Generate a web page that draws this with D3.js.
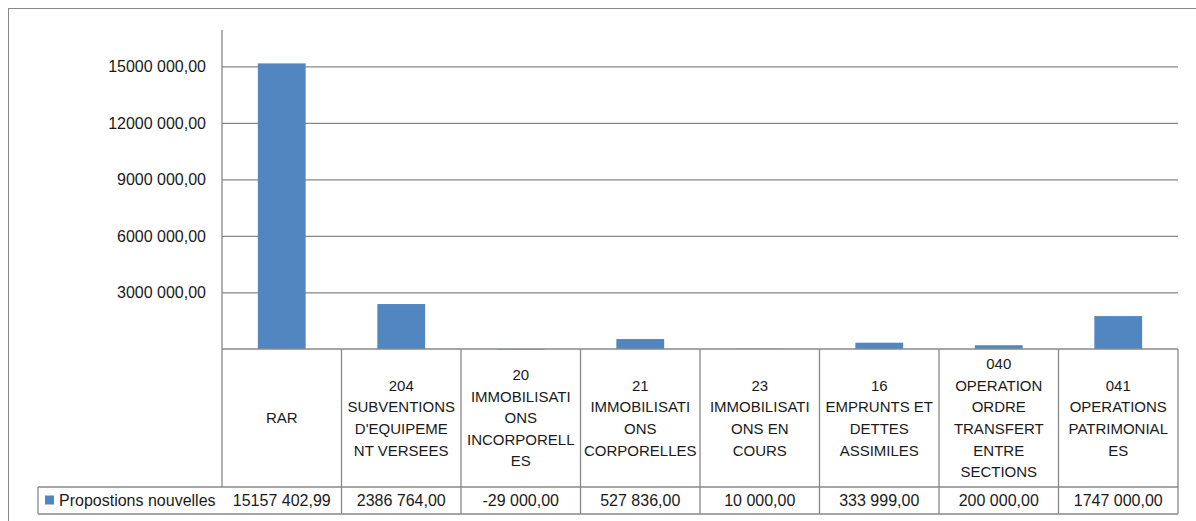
<!DOCTYPE html>
<html>
<head>
<meta charset="utf-8">
<script src="https://cdn.jsdelivr.net/npm/d3@7"></script>
<style>
  body { margin: 0; background: #fff; }
  svg text { font-family: "Liberation Sans", Arial, sans-serif; fill: #1a1a1a; }
</style>
</head>
<body>
<svg id="chart"></svg>
<script>
// categories (line breaks as Excel wrapped them)
var categories = [
  "RAR",
  "204\nSUBVENTIONS\nD'EQUIPEME\nNT VERSEES",
  "20\nIMMOBILISATI\nONS\nINCORPORELL\nES",
  "21\nIMMOBILISATI\nONS\nCORPORELLES",
  "23\nIMMOBILISATI\nONS EN\nCOURS",
  "16\nEMPRUNTS ET\nDETTES\nASSIMILES",
  "040\nOPERATION\nORDRE\nTRANSFERT\nENTRE\nSECTIONS",
  "041\nOPERATIONS\nPATRIMONIAL\nES"
];
var seriesName = "Propostions nouvelles";
var values = [15157402.99, 2386764, -29000, 527836, 10000, 333999, 200000, 1747000];
var yTicks = [3000000, 6000000, 9000000, 12000000, 15000000];

function drawChart() {
    var width = 1196, height = 521,
        left = 222, right = 1178,
        top = 30, bottom = 349,
        headBottom = 487, rowBottom = 514,
        legendLeft = 38,
        grid = "#888888",
        barColor = "#5186c1";

    // format like "15000 000,00"
    function fmt(v) {
        var s = Math.abs(v).toFixed(2).split(".");
        var i = s[0];
        if (i.length > 3) i = i.slice(0, -3) + " " + i.slice(-3);
        return (v < 0 ? "-" : "") + i + "," + s[1];
    }

    var svg = d3.select("#chart")
        .attr("width", width)
        .attr("height", height);

    // outer chart frame
    svg.append("rect")
        .attr("x", 8.5).attr("y", 8.5)
        .attr("width", 1300).attr("height", 700)
        .attr("fill", "none")
        .attr("stroke", grid);

    var x = d3.scaleBand()
        .domain(categories)
        .range([left, right])
        .padding(0);

    var y = d3.scaleLinear()
        .domain([0, 16930000])
        .range([bottom, top]);

    // gridlines + labels
    var yAxis = d3.axisLeft(y)
        .tickValues(yTicks)
        .tickSize(-(right - left))
        .tickPadding(16)
        .tickFormat(fmt);

    var ga = svg.append("g")
        .attr("transform", "translate(" + left + ",0)")
        .call(yAxis);
    ga.select(".domain").remove();
    ga.selectAll(".tick line")
        .attr("stroke", grid)
        .attr("stroke-width", 1.3);
    ga.selectAll(".tick text")
        .attr("font-size", 16)
        .attr("font-family", "Liberation Sans, Arial, sans-serif")
        .attr("fill", "#1a1a1a");

    // vertical axis line
    svg.append("line")
        .attr("x1", left).attr("x2", left)
        .attr("y1", y.range()[1]).attr("y2", headBottom)
        .attr("stroke", grid).attr("stroke-width", 1.3);

    // bars
    var bw = x.bandwidth() / 2.5;
    svg.selectAll("rect.bar")
        .data(values)
        .enter().append("rect")
        .attr("class", "bar")
        .attr("x", function (d, i) { return x(categories[i]) + (x.bandwidth() - bw) / 2; })
        .attr("y", function (d) { return y(Math.max(0, d)); })
        .attr("width", bw)
        .attr("height", function (d) { return Math.abs(y(d) - y(0)); })
        .attr("fill", barColor);

    // data table lines
    var tl = svg.append("g")
        .attr("stroke", grid)
        .attr("stroke-width", 1.3);
    tl.append("line")
        .attr("x1", left).attr("x2", right)
        .attr("y1", y(0)).attr("y2", y(0));
    tl.append("line")
        .attr("x1", legendLeft).attr("x2", right)
        .attr("y1", headBottom).attr("y2", headBottom);
    tl.append("line")
        .attr("x1", legendLeft).attr("x2", right)
        .attr("y1", rowBottom).attr("y2", rowBottom);
    tl.append("line")
        .attr("x1", legendLeft).attr("x2", legendLeft)
        .attr("y1", headBottom).attr("y2", rowBottom);
    tl.selectAll("line.col")
        .data(categories)
        .enter().append("line")
        .attr("class", "col")
        .attr("x1", function (d) { return x(d) + x.bandwidth(); })
        .attr("x2", function (d) { return x(d) + x.bandwidth(); })
        .attr("y1", y(0)).attr("y2", rowBottom);

    // header labels
    var lh = 21.6, midHead = (y(0) + headBottom) / 2;
    categories.forEach(function (c) {
        var lines = c.split("\n");
        var t = svg.append("text")
            .attr("text-anchor", "middle")
            .attr("font-size", 15);
        lines.forEach(function (ln, k) {
            t.append("tspan")
                .attr("x", x(c) + x.bandwidth() / 2)
                .attr("y", midHead + (k - (lines.length - 1) / 2) * lh)
                .attr("dy", "0.35em")
                .text(ln);
        });
    });

    // value row
    var midRow = (headBottom + rowBottom) / 2;
    svg.selectAll("text.val")
        .data(values)
        .enter().append("text")
        .attr("class", "val")
        .attr("x", function (d, i) { return x(categories[i]) + x.bandwidth() / 2; })
        .attr("y", midRow)
        .attr("dy", "0.35em")
        .attr("text-anchor", "middle")
        .attr("font-size", 16)
        .text(fmt);

    // legend key in the table
    svg.append("rect")
        .attr("x", 45).attr("y", midRow - 5)
        .attr("width", 9).attr("height", 9)
        .attr("fill", barColor);
    svg.append("text")
        .attr("x", 59)
        .attr("y", midRow)
        .attr("dy", "0.35em")
        .attr("font-size", 16)
        .text(seriesName);
}
drawChart();
</script>
</body>
</html>
